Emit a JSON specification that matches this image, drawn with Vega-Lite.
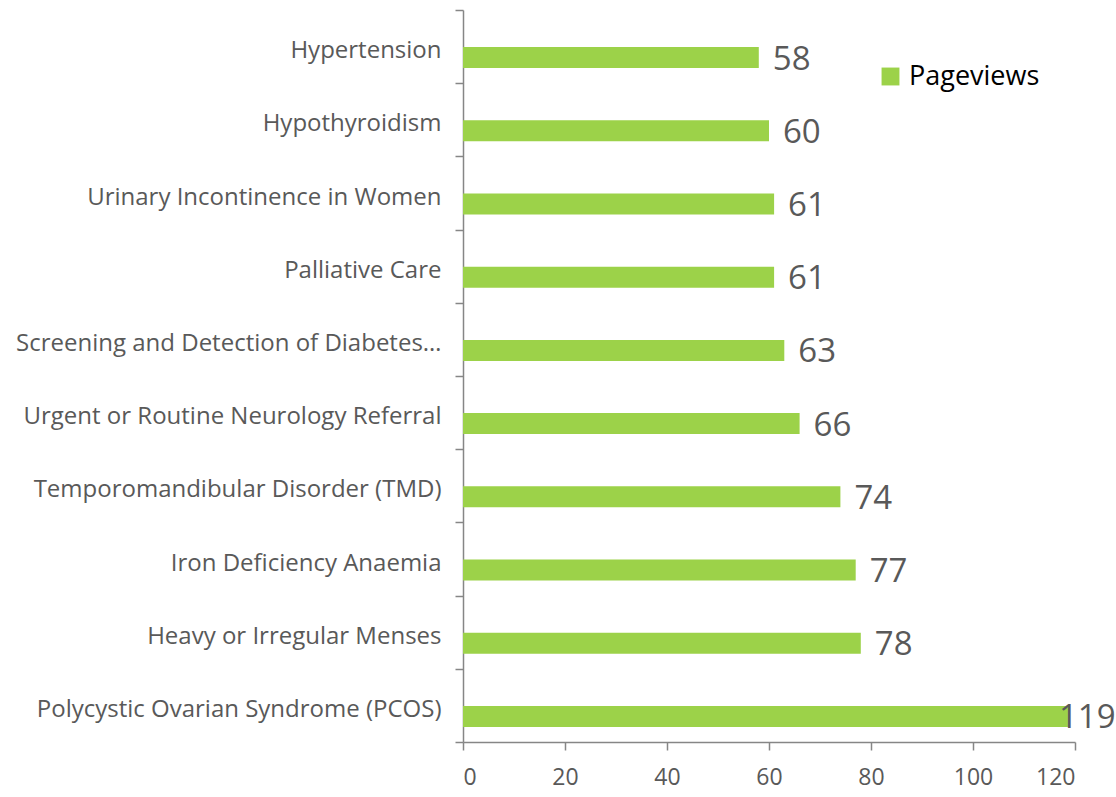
{
  "$schema": "https://vega.github.io/schema/vega-lite/v6.json",
  "width": 612,
  "height": 732,
  "autosize": {"type": "none"},
  "padding": {"left": 463, "top": 10, "right": 41, "bottom": 55},
  "background": "white",
  "config": {"view": {"stroke": null}, "font": "Open Sans"},
  "data": {
    "values": [
      {"topic": "Hypertension", "pageviews": 58},
      {"topic": "Hypothyroidism", "pageviews": 60},
      {"topic": "Urinary Incontinence in Women", "pageviews": 61},
      {"topic": "Palliative Care", "pageviews": 61},
      {"topic": "Screening and Detection of Diabetes…", "pageviews": 63},
      {"topic": "Urgent or Routine Neurology Referral", "pageviews": 66},
      {"topic": "Temporomandibular Disorder (TMD)", "pageviews": 74},
      {"topic": "Iron Deficiency Anaemia", "pageviews": 77},
      {"topic": "Heavy or Irregular Menses", "pageviews": 78},
      {"topic": "Polycystic Ovarian Syndrome (PCOS)", "pageviews": 119}
    ]
  },
  "encoding": {
    "y": {
      "field": "topic",
      "type": "nominal",
      "sort": null,
      "title": null,
      "scale": {"paddingInner": 0, "paddingOuter": 0},
      "axis": {
        "tickBand": "extent",
        "tickSize": 8,
        "tickColor": "#868686",
        "tickWidth": 1.5,
        "domainColor": "#868686",
        "domainWidth": 1.5,
        "labelFontSize": 24,
        "labelColor": "#595959",
        "labelPadding": 14,
        "labelLimit": 500,
        "labelOffset": 4
      }
    },
    "x": {
      "field": "pageviews",
      "type": "quantitative",
      "title": null,
      "scale": {"domain": [0, 120], "nice": false},
      "axis": {
        "values": [0, 20, 40, 60, 80, 100, 120],
        "grid": false,
        "tickSize": 8,
        "tickColor": "#868686",
        "tickWidth": 1.5,
        "domainColor": "#868686",
        "domainWidth": 1.5,
        "labelFontSize": 23,
        "labelColor": "#595959",
        "labelPadding": 16
      }
    }
  },
  "layer": [
    {
      "mark": {"type": "bar", "size": 21, "yOffset": 11},
      "encoding": {
        "color": {
          "datum": "Pageviews",
          "type": "nominal",
          "scale": {"range": ["#9CD249"]},
          "legend": {
            "title": null,
            "orient": "none",
            "legendX": 414,
            "legendY": 53,
            "symbolType": "square",
            "symbolSize": 320,
            "symbolStrokeWidth": 0,
            "labelFontSize": 27,
            "labelColor": "#000000",
            "labelOffset": 5
          }
        }
      }
    },
    {
      "transform": [{"filter": "datum.pageviews < 100"}],
      "mark": {"type": "text", "align": "left", "baseline": "middle", "dx": 14, "yOffset": 13, "fontSize": 33, "color": "#595959"},
      "encoding": {"text": {"field": "pageviews", "type": "quantitative"}}
    },
    {
      "transform": [{"filter": "datum.pageviews >= 100"}],
      "mark": {"type": "text", "align": "left", "baseline": "middle", "dx": -11, "yOffset": 13, "fontSize": 33, "color": "#595959"},
      "encoding": {"text": {"field": "pageviews", "type": "quantitative"}}
    }
  ]
}
